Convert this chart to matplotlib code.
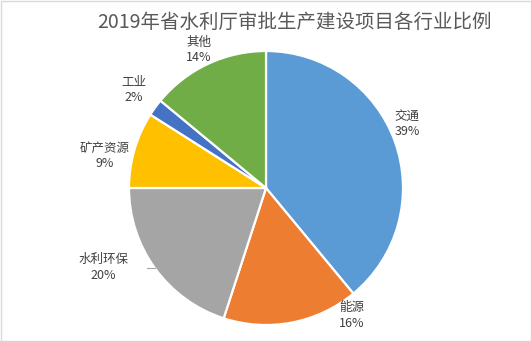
import numpy as np
import matplotlib
matplotlib.use("Agg")
import matplotlib.pyplot as plt
from matplotlib.patches import Rectangle

plt.rcParams['font.family'] = ['Noto Sans CJK SC', 'DejaVu Sans']

categories = ["交通", "能源", "水利环保", "矿产资源", "工业", "其他"]
values = [39, 16, 20, 9, 2, 14]
colors = ["#5B9BD5", "#ED7D31", "#A5A5A5", "#FFC000", "#4472C4", "#70AD47"]
title = "2019年省水利厅审批生产建设项目各行业比例"

# label placement style: (angle offset in degrees, radial factor)
label_style = [(4.6, 1.13), (23, 1.12), (-10, 1.32), (5, 1.2), (-0.6, 1.2), (0.8, 1.12)]

W, H = 531, 341
fig = plt.figure(figsize=(W / 100, H / 100), dpi=100)
fig.patch.set_facecolor("white")
ax = fig.add_axes([0, 0, 1, 1])
cx, cy, r = 266, 188, 137

wedges, _ = ax.pie(values, colors=colors, startangle=90, counterclock=False,
                   radius=1.0, wedgeprops=dict(edgecolor="white", linewidth=1.6))
ax.set_aspect("auto")
ax.set_xlim(-cx / r, (W - cx) / r)
ax.set_ylim(-(H - cy) / r, cy / r)
ax.axis("off")

for w, cat, v, (da, rf) in zip(wedges, categories, values, label_style):
    mid = np.deg2rad((w.theta1 + w.theta2) / 2 + da)
    x, y = rf * np.cos(mid), rf * np.sin(mid)
    ax.text(x, y, f"{cat}\n{v}%", ha="center", va="center", fontsize=9,
            color="#404040", linespacing=1.25)

# small leader line for 水利环保
ax.plot([(147 - cx) / r, (155 - cx) / r], [-(268 - cy) / r, -(268 - cy) / r],
        color="#A6A6A6", linewidth=0.8)

fig.text(294 / W, 1 - 22 / H, title, ha="center", va="center", fontsize=14,
         color="#595959")

fig.patches.append(Rectangle((0.5 / W, 0.5 / H), 1 - 1 / W, 1 - 1 / H,
                             transform=fig.transFigure, fill=False,
                             edgecolor="#D9D9D9", linewidth=1))

fig.savefig("out.png", dpi=100)
